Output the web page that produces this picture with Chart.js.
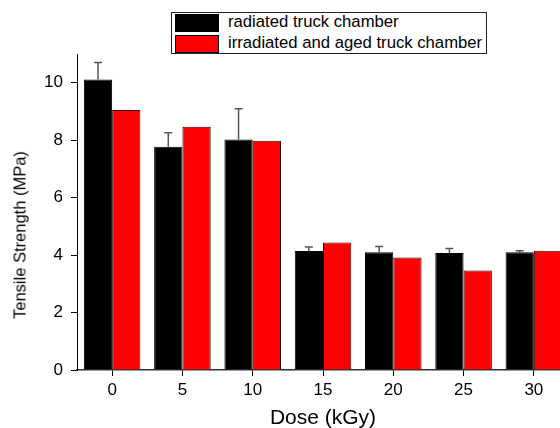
<!DOCTYPE html>
<html>
<head>
<meta charset="utf-8">
<script src="https://cdn.jsdelivr.net/npm/chart.js@4"></script>
<style>
  html, body { margin: 0; padding: 0; background: #fff; overflow: hidden; }
  #wrap { position: relative; width: 560px; height: 428px; overflow: hidden; }
  #legend {
    position: absolute; left: 171px; top: 12px; width: 314px; height: 40px;
    border: 1px solid #222; background: #fff;
    font-family: 'Liberation Sans', Arial, sans-serif; font-size: 16.7px; color: #000;
  }
  .row { position: absolute; left: 3px; height: 18px; }
  .sw { position: absolute; left: 0; top: 0; width: 42px; height: 16px; border: 1px solid #000; }
  .lbl { position: absolute; left: 53px; top: -1px; white-space: nowrap; line-height: 18px; }
  #ytitle {
    position: absolute; left: 20px; top: 235px; white-space: nowrap;
    transform: translate(-50%, -50%) rotate(-90deg);
    font-family: 'Liberation Sans', Arial, sans-serif; font-size: 16.5px; color: #000;
  }
</style>
</head>
<body>
<div id="wrap">
  <canvas id="chart" width="569" height="428"></canvas>
  <div id="legend"></div>
  <div id="ytitle"></div>
</div>
<script>
// Tensile strength vs dose

const doses = ['0', '5', '10', '15', '20', '25', '30'];
const seriesNames = ['radiated truck chamber', 'irradiated and aged truck chamber'];
const radiated = [10.11, 7.77, 8.02, 4.14, 4.10, 4.07, 4.10];
const radiatedErr = [0.59, 0.49, 1.07, 0.14, 0.20, 0.16, 0.05];
const aged = [9.05, 8.47, 7.98, 4.44, 3.92, 3.46, 4.15];
const yTicks = [0, 2, 4, 6, 8, 10];
const yTitle = 'Tensile Strength (MPa)';
const xTitle = 'Dose (kGy)';

const COLORS = { radiated: '#000000', aged: '#ff0000', err: '#555555', text: '#000' };
const FONT = "'Liberation Sans', Arial, sans-serif";

// upper-only error bars on the first dataset
const errorBars = {
  id: 'errorBars',
  afterDatasetsDraw(chart) {
    const { ctx, scales: { y } } = chart;
    const meta = chart.getDatasetMeta(0);
    ctx.save();
    ctx.strokeStyle = COLORS.err;
    ctx.lineWidth = 1.5;
    meta.data.forEach((bar, i) => {
      const x = bar.x;
      const y0 = y.getPixelForValue(radiated[i]);
      const y1 = y.getPixelForValue(radiated[i] + radiatedErr[i]);
      ctx.beginPath();
      ctx.moveTo(x, y0);
      ctx.lineTo(x, y1);
      ctx.moveTo(x - 4, y1);
      ctx.lineTo(x + 4, y1);
      ctx.stroke();
    });
    ctx.restore();
  }
};

new Chart(document.getElementById('chart'), {
  type: 'bar',
  data: {
    labels: doses,
    datasets: [
      { label: seriesNames[0], data: radiated, backgroundColor: COLORS.radiated, borderColor: '#000', borderWidth: 1 },
      { label: seriesNames[1], data: aged, backgroundColor: COLORS.aged, borderColor: '#300', borderWidth: 1 }
    ]
  },
  options: {
    responsive: false,
    animation: false,
    layout: { padding: { top: 54, left: 0, right: 0, bottom: 0 } },
    datasets: { bar: { categoryPercentage: 0.805, barPercentage: 1.0 } },
    plugins: { legend: { display: false }, tooltip: { enabled: false } },
    scales: {
      x: {
        offset: true,
        grid: { display: true, drawOnChartArea: false, offset: false, tickLength: 6, color: '#000', lineWidth: 1 },
        border: { color: '#333', width: 1.5 },
        ticks: { color: COLORS.text, padding: 4, font: { family: FONT, size: 17 } },
        title: { display: true, text: xTitle, color: COLORS.text, padding: { top: 0, bottom: -3 }, font: { family: FONT, size: 21 } },
        afterFit: s => { s.height = 58; }
      },
      y: {
        min: 0, max: 11,
        afterBuildTicks: s => { s.ticks = yTicks.map(v => ({ value: v })); },
        grid: { display: true, drawOnChartArea: false, tickLength: 6, color: '#000', lineWidth: 1 },
        border: { color: '#000', width: 1 },
        ticks: { color: COLORS.text, padding: 8, font: { family: FONT, size: 17 } },
        afterFit: s => { s.width = 77; }
      }
    }
  },
  plugins: [errorBars]
});

// y title (placed below the axis centre, as in the original)
document.getElementById('ytitle').textContent = yTitle;

// legend box
const legend = document.getElementById('legend');
[COLORS.radiated, COLORS.aged].forEach((c, i) => {
  const row = document.createElement('div');
  row.className = 'row';
  row.style.top = (1 + i * 21) + 'px';
  row.innerHTML = '<div class="sw" style="background:' + c + '"></div><div class="lbl">' + seriesNames[i] + '</div>';
  legend.appendChild(row);
});
</script>
</body>
</html>
